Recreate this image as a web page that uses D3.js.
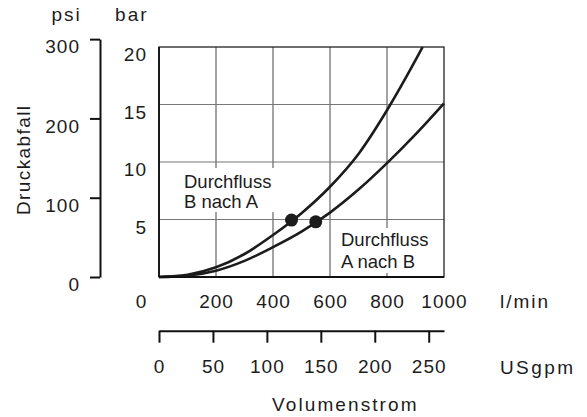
<!DOCTYPE html>
<html><head><meta charset="utf-8">
<script src="https://cdn.jsdelivr.net/npm/d3@7"></script>
<style>
html,body{margin:0;padding:0;background:#fff;}
svg{display:block;font-family:"Liberation Sans",Arial,sans-serif;}
</style></head>
<body><svg id="c" width="587" height="417"></svg>
<script>
// ---- data ----
const lpmTicks = [0, 200, 400, 600, 800, 1000];
const gpmTicks = [0, 50, 100, 150, 200, 250];
const barTicks = [5, 10, 15, 20];
const barGrid = [5, 10, 15];
const psiTicks = [0, 100, 200, 300];
const flowBA = [0, 100, 200, 300, 400, 500, 600, 700, 800, 900, 925];
const pressBA = [0, 0.2, 0.85, 2.0, 3.65, 5.55, 7.85, 10.7, 14.5, 18.85, 20];
const flowAB = [0, 100, 200, 300, 400, 500, 600, 700, 800, 900, 1000];
const pressAB = [0, 0.12, 0.55, 1.4, 2.6, 3.95, 5.6, 7.6, 9.9, 12.4, 15.1];
const dotFlow = [465, 550];
const dotPress = [4.95, 4.8];
const labelBA = ["Durchfluss", "B nach A"];
const labelAB = ["Durchfluss", "A nach B"];
const PSI_PER_BAR = 14.5038;
const LPM_PER_GPM = 3.78541;

const svg = d3.select("#c");
const x = d3.scaleLinear().domain([0, 1000]).range([159, 444]);
const y = d3.scaleLinear().domain([0, 20]).range([277, 47]);
const psi = d3.scaleLinear().domain([0, 300]).range([y(0), y(300 / PSI_PER_BAR)]);
const gpm = d3.scaleLinear().domain([0, 1000 / LPM_PER_GPM]).range([x(0), x(1000)]);
const FS = 19;
const INK = "#1c1c1c";

// grid
const g = svg.append("g");
g.selectAll("line.v").data(lpmTicks.slice(1, -1)).join("line")
  .attr("x1", d => x(d)).attr("x2", d => x(d)).attr("y1", y(0)).attr("y2", y(20))
  .attr("stroke", "#666").attr("stroke-width", 1.2);
g.selectAll("line.h").data(barGrid).join("line")
  .attr("x1", x(0)).attr("x2", x(1000)).attr("y1", d => y(d)).attr("y2", d => y(d))
  .attr("stroke", "#777").attr("stroke-width", 1.2);

// label boxes + text
function label(lines, x0, base, gap, box) {
  svg.append("rect").attr("x", box[0]).attr("y", box[1]).attr("width", box[2]).attr("height", box[3]).attr("fill", "#fff");
  lines.forEach((t, i) => {
    svg.append("text").attr("x", x0).attr("y", base + i * gap).attr("font-size", 18.5)
      .attr("fill", INK).text(t);
  });
}
label(labelBA, 184, 188.3, 20, [179, 168, 97, 44]);
label(labelAB, 341, 246, 21.5, [336, 228, 82, 45]);

// curves
const line = d3.line().x(d => x(d[0])).y(d => y(d[1])).curve(d3.curveMonotoneX);
svg.append("path").attr("d", line(d3.zip(flowBA, pressBA)))
  .attr("fill", "none").attr("stroke", INK).attr("stroke-width", 2.6);
svg.append("path").attr("d", line(d3.zip(flowAB, pressAB)))
  .attr("fill", "none").attr("stroke", INK).attr("stroke-width", 2.6);
svg.selectAll("circle.dot").data(d3.zip(dotFlow, dotPress)).join("circle")
  .attr("cx", d => x(d[0])).attr("cy", d => y(d[1])).attr("r", 6.5).attr("fill", INK);

// frame
svg.append("rect").attr("x", x(0)).attr("y", y(20)).attr("width", x(1000) - x(0)).attr("height", y(0) - y(20))
  .attr("fill", "none").attr("stroke", "#222").attr("stroke-width", 1.3);
svg.append("line").attr("x1", x(0)).attr("x2", x(1000)).attr("y1", y(0)).attr("y2", y(0)).attr("stroke", "#111").attr("stroke-width", 2);
svg.append("line").attr("x1", x(0)).attr("x2", x(0)).attr("y1", y(0)).attr("y2", y(20)).attr("stroke", "#111").attr("stroke-width", 1.8);

function styleAxis(sel, ls) {
  sel.selectAll("text").attr("font-size", FS).attr("font-family", "Liberation Sans, Arial, sans-serif")
    .attr("fill", INK).attr("letter-spacing", ls);
  sel.selectAll("line,path").attr("stroke", "#111").attr("stroke-width", 2);
}
const fmt = d3.format("d");

// bar axis (labels only)
const barAx = svg.append("g").attr("transform", `translate(${x(0)},0)`)
  .call(d3.axisLeft(y).tickValues(barTicks).tickFormat(fmt).tickSize(0).tickPadding(12));
barAx.select(".domain").remove();
styleAxis(barAx, "1px");
barAx.selectAll("text").attr("dy", "0.72em");

// psi axis
const psiAx = svg.append("g").attr("transform", "translate(100,0)")
  .call(d3.axisLeft(psi).tickValues(psiTicks).tickFormat(fmt).tickSize(10).tickSizeOuter(0).tickPadding(10));
styleAxis(psiAx, "1px");
psiAx.selectAll("text").attr("dy", "0.72em");

// l/min axis (labels only)
const lpmAx = svg.append("g").attr("transform", `translate(0,${y(0)})`)
  .call(d3.axisBottom(x).tickValues(lpmTicks).tickFormat(fmt).tickSize(0).tickPadding(18));
lpmAx.select(".domain").remove();
styleAxis(lpmAx, "1px");
lpmAx.selectAll("text").attr("dx", d => d === 0 ? -18 : 0);

// USgpm axis
const gpmAx = svg.append("g").attr("transform", "translate(0,330.7)")
  .call(d3.axisBottom(gpm).tickValues(gpmTicks).tickFormat(fmt).tickSize(12).tickSizeOuter(0).tickPadding(17));
styleAxis(gpmAx, "1px");

// titles
function txt(t, xx, yy, ls, anchor) {
  return svg.append("text").attr("x", xx).attr("y", yy).attr("font-size", FS).attr("fill", INK)
    .attr("letter-spacing", ls).attr("text-anchor", anchor || "start").text(t);
}
txt("psi", 51.5, 21, "2px");
txt("bar", 115, 21, "2.1px");
txt("l/min", 500, 307.7, "2px");
txt("USgpm", 500, 373.5, "2.4px");
txt("Volumenstrom", 272, 410.7, "2.1px");
svg.append("text").attr("transform", "translate(30,215) rotate(-90)").attr("font-size", FS).attr("fill", INK)
  .attr("letter-spacing", "1.4px").text("Druckabfall");
</script></body></html>
